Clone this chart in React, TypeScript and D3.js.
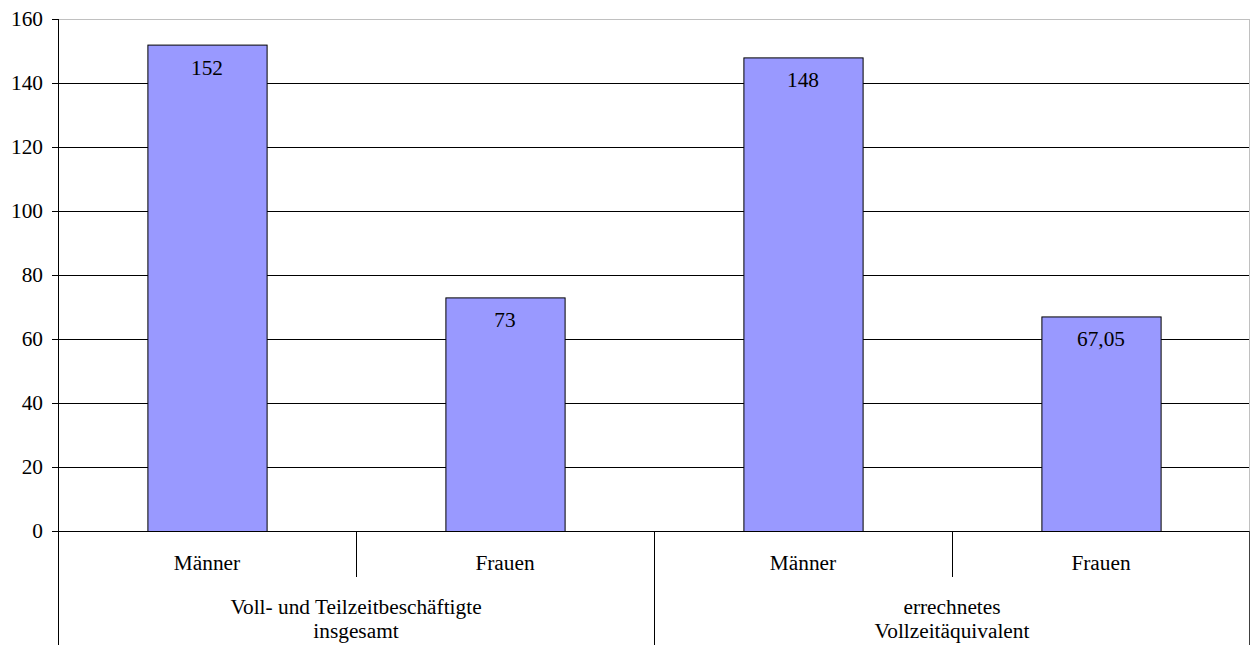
import React from "react";
import * as d3 from "d3";

const categories = ["Männer", "Frauen", "Männer", "Frauen"];
const values = [152, 73, 148, 67.05];
const valueLabels = ["152", "73", "148", "67,05"];
const groups = [
  ["Voll- und Teilzeitbeschäftigte", "insgesamt"],
  ["errechnetes", "Vollzeitäquivalent"],
];
const yTicks = [0, 20, 40, 60, 80, 100, 120, 140, 160];

const W = 1251;
const H = 645;
const left = 58;
const right = 1250;
const top = 19;
const bottom = 531;
const textStyle: React.CSSProperties = {
  fontFamily: '"Liberation Serif", "Times New Roman", Times, serif',
  fontSize: "21.33px",
};

export default function App() {
  const idx = categories.map((_, i) => String(i));
  const x = d3
    .scaleBand<string>()
    .domain(idx)
    .range([left, right])
    .paddingInner(0.6)
    .paddingOuter(0.3);
  const y = d3.scaleLinear().domain([0, 160]).range([bottom, top]);
  const step = x.step();
  const groupWidth = (right - left) / groups.length;

  return (
    <svg
      width={W}
      height={H}
      style={{ position: "absolute", left: 0, top: 0, background: "#fff" }}
    >
      {/* grid lines */}
      {yTicks.map((t) =>
        t === 0 ? null : (
          <line
            key={t}
            x1={left}
            x2={right}
            y1={y(t) + 0.5}
            y2={y(t) + 0.5}
            stroke={t === 160 ? "#c0c0c0" : "#000"}
            strokeWidth={1}
          />
        )
      )}
      {/* right border of plot area */}
      <line x1={right - 0.5} x2={right - 0.5} y1={top} y2={bottom} stroke="#c0c0c0" />

      {/* bars */}
      {values.map((v, i) => (
        <rect
          key={i}
          x={x(String(i))! + 0.5}
          y={y(v) + 0.5}
          width={x.bandwidth()}
          height={bottom - y(v)}
          fill="#9999ff"
          stroke="#000"
          strokeWidth={1}
        />
      ))}
      {values.map((v, i) => (
        <text
          key={i}
          x={x(String(i))! + x.bandwidth() / 2}
          y={y(v) + 30}
          textAnchor="middle"
          style={textStyle}
          fill="#000"
        >
          {valueLabels[i]}
        </text>
      ))}

      {/* y axis */}
      <line x1={left + 0.5} x2={left + 0.5} y1={top} y2={H} stroke="#000" />
      {yTicks.map((t) => (
        <g key={t}>
          <line x1={left - 6} x2={left} y1={y(t) + 0.5} y2={y(t) + 0.5} stroke="#000" />
          <text x={left - 15} y={y(t) + 7} textAnchor="end" style={textStyle} fill="#000">
            {t}
          </text>
        </g>
      ))}

      {/* x axis */}
      <line x1={left} x2={right} y1={bottom + 0.5} y2={bottom + 0.5} stroke="#000" />
      <line x1={right - 0.5} x2={right - 0.5} y1={bottom} y2={H} stroke="#404040" />
      {categories.map((c, i) => {
        const cx = x(String(i))! + x.bandwidth() / 2;
        return (
          <text key={i} x={cx} y={570} textAnchor="middle" style={textStyle} fill="#000">
            {c}
          </text>
        );
      })}
      {/* dividers between categories */}
      {d3.range(1, categories.length).map((i) => {
        const dx = Math.round(left + step * i) + 0.5;
        const isGroup = i % 2 === 0;
        return (
          <line
            key={i}
            x1={dx}
            x2={dx}
            y1={bottom}
            y2={isGroup ? H : 577}
            stroke="#000"
          />
        );
      })}
      {groups.map((g, gi) => {
        const cx = left + groupWidth * (gi + 0.5);
        return (
          <text key={gi} textAnchor="middle" style={textStyle} fill="#000">
            <tspan x={cx} y={614}>
              {g[0]}
            </tspan>
            <tspan x={cx} y={638}>
              {g[1]}
            </tspan>
          </text>
        );
      })}
    </svg>
  );
}
